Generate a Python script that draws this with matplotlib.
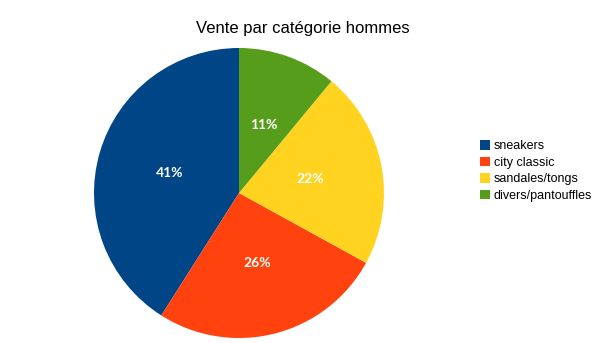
import matplotlib.pyplot as plt

categories = ['sneakers', 'city classic', 'sandales/tongs', 'divers/pantouffles']
values = [41, 26, 22, 11]
colors = ['#004586', '#ff420e', '#ffd320', '#579d1c']

W, H = 604, 343
fig = plt.figure(figsize=(W / 100, H / 100), dpi=100)

cx, cy, r = 239, 193, 145
ax = fig.add_axes([(cx - r) / W, (H - cy - r) / H, 2 * r / W, 2 * r / H])
wedges, texts, autotexts = ax.pie(values, colors=colors, startangle=90, counterclock=True,
                                  autopct='%d%%', pctdistance=0.5, radius=1,
                                  wedgeprops=dict(linewidth=0))
for t in autotexts:
    t.set_color('white')
    t.set_fontsize(10)
    t.set_fontweight('bold')
    t.set_family('Lato')
ax.set_xlim(-1, 1)
ax.set_ylim(-1, 1)
ax.set_aspect('equal')

fig.text(303 / W, 1 - 28 / H, 'Vente par catégorie hommes', ha='center', va='center',
         fontsize=12, family='Liberation Sans')

leg = fig.legend(wedges, categories, loc='center left', bbox_to_anchor=(469 / W, 1 - 171 / H),
                 frameon=False, prop={'family': 'Liberation Sans', 'size': 9},
                 handlelength=0.8, handleheight=0.8, handletextpad=0.3, labelspacing=0.35)

fig.savefig('out.png', dpi=100)
